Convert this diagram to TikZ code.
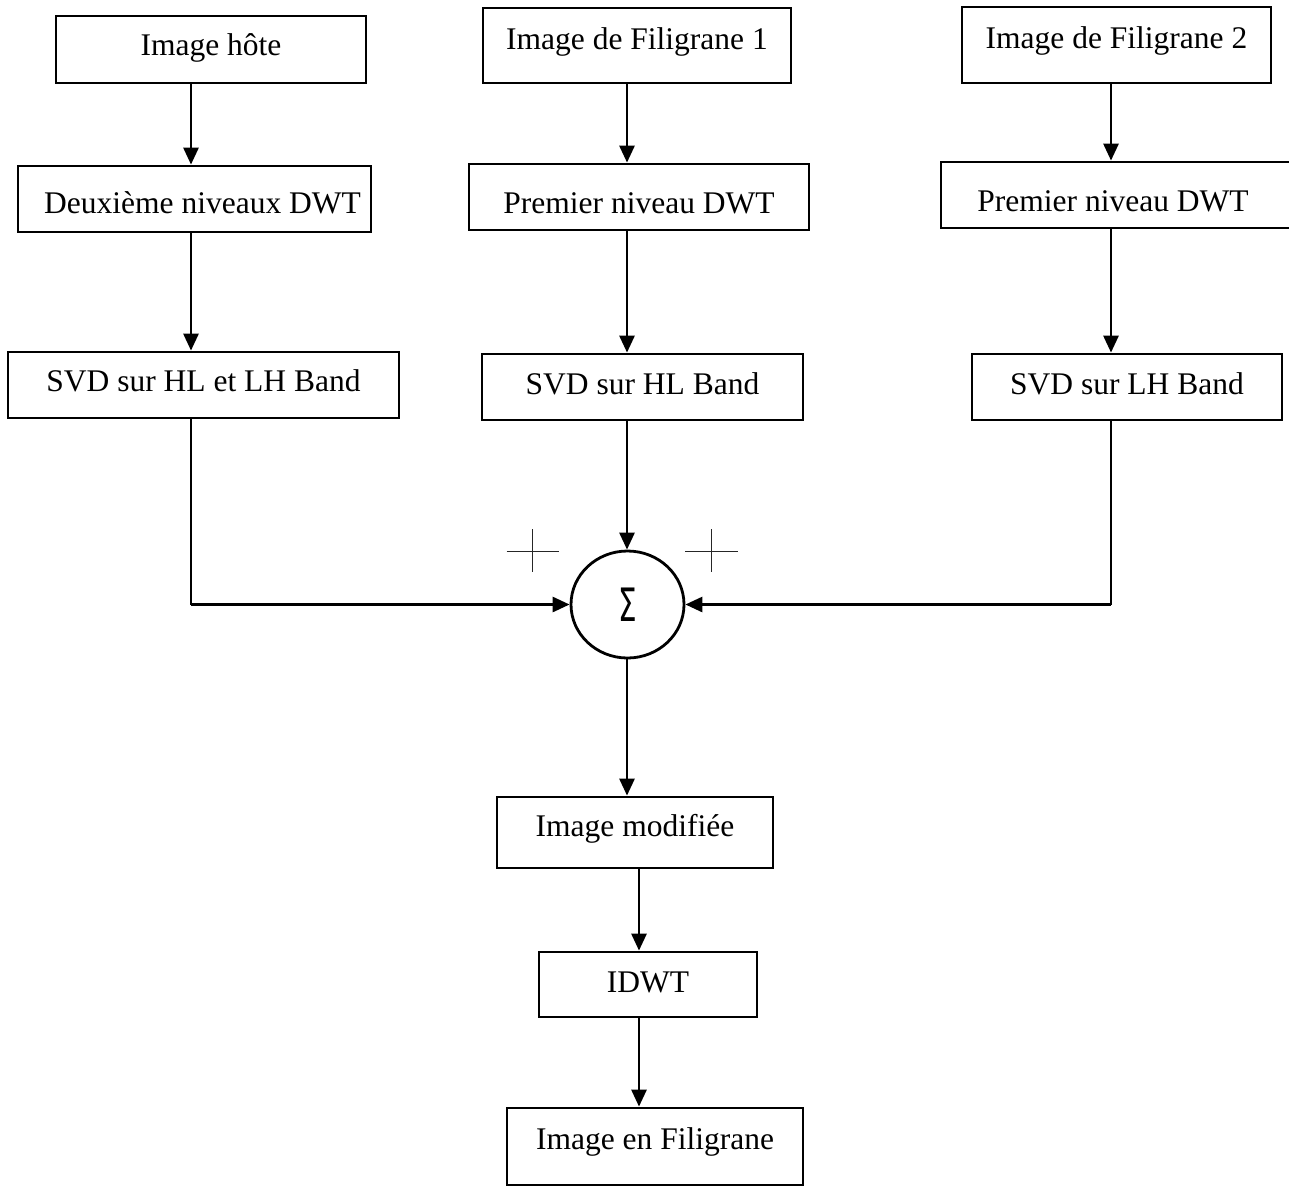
\documentclass[tikz,border=0pt]{standalone}
\usepackage{graphicx}
\usepackage{fontspec}
\setmainfont{Liberation Serif}
\newfontfamily\sigmafont{DejaVu Sans}
\usetikzlibrary{arrows.meta,shapes.geometric}

\begin{document}
\begin{tikzpicture}[x=1pt,y=-1pt,
  box/.style={draw,line width=2.8pt,rectangle,inner sep=0pt,
    font=\fontsize{31.5}{36}\selectfont,text depth=0pt},
  flow/.style={line width=2.8pt,-{Triangle[length=17pt,width=15pt]}},
  feed/.style={line width=1.5pt},
  plusmark/.style={line width=1.3pt,draw=black!85},
  summer/.style={draw,ellipse,line width=2.8pt,inner sep=0pt,
    minimum width=113pt,minimum height=107pt}]

\useasboundingbox (0,0) rectangle (1289,1186);

% column positions of the vertical connectors
\coordinate (xa) at (191,0);
\coordinate (xb) at (627,0);
\coordinate (xc) at (1111,0);
\coordinate (xd) at (639,0);

% inputs
\node[box,minimum width=310pt,minimum height=67pt,text height=11pt] (hote) at (211,49.5) {Image hôte};
\node[box,minimum width=308pt,minimum height=75pt,text height=7pt] (fil1) at (637,45.5) {Image de Filigrane 1};
\node[box,minimum width=309pt,minimum height=76pt,text height=6.6pt] (fil2) at (1116.5,45) {Image de Filigrane 2};

% wavelet decompositions
\node[box,minimum width=353pt,minimum height=66pt,text height=28pt] (deux) at (194.5,199) {\hspace*{16pt}Deuxième niveaux DWT};
\node[box,minimum width=340pt,minimum height=66pt,text height=32pt] (prem1) at (639,197) {Premier niveau DWT};
\node[box,minimum width=352pt,minimum height=66pt,text height=33pt] (prem2) at (1117,195) {Premier niveau DWT\hspace*{8pt}};

% SVD stages
\node[box,minimum width=391pt,minimum height=66pt,text height=13.4pt] (svd1) at (203.5,385) {SVD sur HL et LH Band};
\node[box,minimum width=321pt,minimum height=66pt,text height=14pt] (svd2) at (642.5,387) {SVD sur HL Band};
\node[box,minimum width=310pt,minimum height=66pt,text height=14pt] (svd3) at (1127,387) {SVD sur LH Band};

% summation
\node[summer] (sum) at (627.5,604.5) {\sigmafont\fontsize{46}{50}\selectfont\scalebox{0.64}[1]{Σ}};

% outputs
\node[box,minimum width=276pt,minimum height=71pt,text height=8.4pt] (modif) at (635,832.5) {Image modifiée};
\node[box,minimum width=218pt,minimum height=65pt,text height=16.4pt] (idwt) at (648,984.5) {IDWT};
\node[box,minimum width=296pt,minimum height=77pt,text height=5pt] (filig) at (655,1146.5) {Image en Filigrane};

% plus signs beside the summation
\draw[plusmark] (506.5,551.5) -- (558.5,551.5) (532.5,529) -- (532.5,572);
\draw[plusmark] (685,551.5) -- (738,551.5) (711.5,529) -- (711.5,572);

% connectors
\draw[flow] (hote.south -| xa) -- (deux.north -| xa);
\draw[flow] (deux.south -| xa) -- (svd1.north -| xa);
\draw[flow] (fil1.south -| xb) -- (prem1.north -| xb);
\draw[flow] (prem1.south -| xb) -- (svd2.north -| xb);
\draw[flow] (fil2.south -| xc) -- (prem2.north -| xc);
\draw[flow] (prem2.south -| xc) -- (svd3.north -| xc);
\draw[flow] (svd2.south -| xb) -- (sum.north -| xb);

\coordinate (cl) at (191,604.5);
\coordinate (cr) at (1111,604.5);
\draw[feed] (svd1.south -| xa) -- (cl);
\draw[flow] (cl) -- (sum.west);
\draw[feed] (svd3.south -| xc) -- (cr);
\draw[flow] (cr) -- (sum.east);

\draw[flow] (sum.south -| xb) -- (modif.north -| xb);
\draw[flow] (modif.south -| xd) -- (idwt.north -| xd);
\draw[flow] (idwt.south -| xd) -- (filig.north -| xd);

\end{tikzpicture}
\end{document}
